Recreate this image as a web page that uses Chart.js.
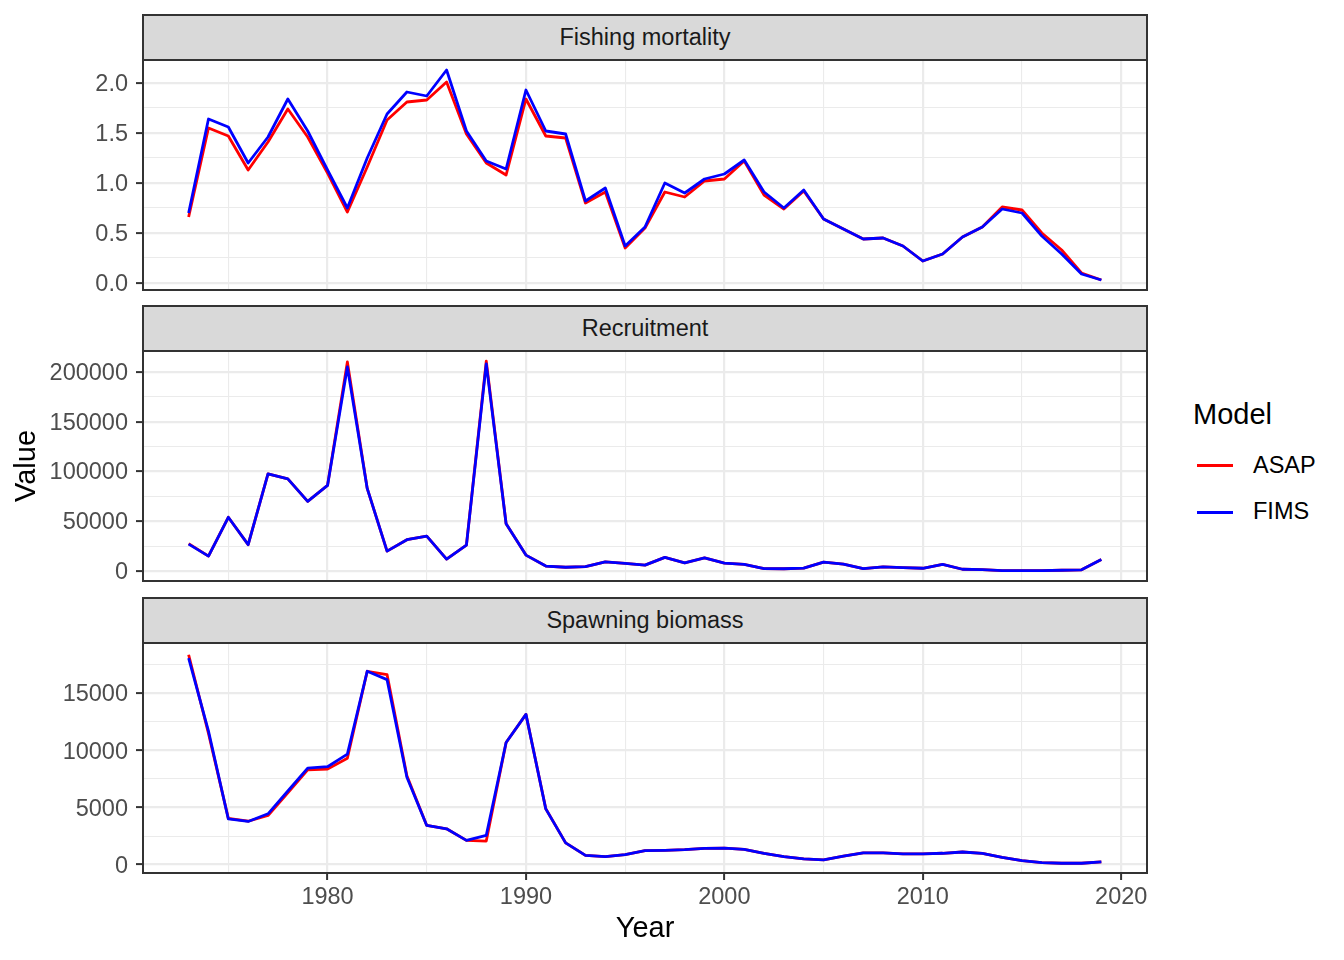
<!DOCTYPE html>
<html>
<head>
<meta charset="utf-8">
<title>ASAP vs FIMS</title>
<script src="https://cdn.jsdelivr.net/npm/chart.js@4.4.1/dist/chart.umd.min.js"></script>
<style>
  body { margin: 0; background: #fff; font-family: 'Liberation Sans', Arial, sans-serif; }
  #page { position: relative; width: 1344px; height: 960px; overflow: hidden; background: #fff; }
  canvas { position: absolute; left: 0; }
  .strip {
    position: absolute; left: 142px; width: 1006px; height: 47px;
    box-sizing: border-box; border: 2px solid #333333; background: #d9d9d9;
    color: #1a1a1a; font-size: 23.5px;
    display: flex; align-items: center; justify-content: center;
  }
  .leg-title { position: absolute; left: 1193px; top: 400px; font-size: 29px; line-height: 29px; color: #000; }
  .leg-key { position: absolute; left: 1197px; width: 36px; height: 3px; }
  .leg-label { position: absolute; left: 1253px; font-size: 23.5px; line-height: 23.5px; color: #000; }
</style>
</head>
<body>
<div id="page">
  <div class="strip" id="strip0" style="top:14px"></div>
  <div class="strip" id="strip1" style="top:305px"></div>
  <div class="strip" id="strip2" style="top:597px"></div>
  <canvas id="c0" width="1177" height="278" style="top:36px"></canvas>
  <canvas id="c1" width="1177" height="278" style="top:327px"></canvas>
  <canvas id="c2" width="1177" height="341" style="top:619px"></canvas>

  <div class="leg-title">Model</div>
  <div class="leg-key" id="key0" style="top:464px"></div>
  <div class="leg-label" id="lab0" style="top:454px"></div>
  <div class="leg-key" id="key1" style="top:511px"></div>
  <div class="leg-label" id="lab1" style="top:500px"></div>
</div>
<script>
// years on the x axis
var years = [1973, 1974, 1975, 1976, 1977, 1978, 1979, 1980, 1981, 1982,
             1983, 1984, 1985, 1986, 1987, 1988, 1989, 1990, 1991, 1992,
             1993, 1994, 1995, 1996, 1997, 1998, 1999, 2000, 2001, 2002,
             2003, 2004, 2005, 2006, 2007, 2008, 2009, 2010, 2011, 2012,
             2013, 2014, 2015, 2016, 2017, 2018, 2019];

// Fishing mortality
var fAsap = [0.66, 1.55, 1.47, 1.13, 1.41, 1.74, 1.46, 1.10, 0.71, 1.16,
             1.63, 1.81, 1.83, 2.01, 1.49, 1.20, 1.08, 1.84, 1.47, 1.45,
             0.80, 0.91, 0.35, 0.55, 0.91, 0.86, 1.02, 1.04, 1.22, 0.88,
             0.74, 0.92, 0.64, 0.54, 0.44, 0.45, 0.37, 0.22, 0.29, 0.46,
             0.56, 0.76, 0.73, 0.50, 0.33, 0.10, 0.03];
var fFims = [0.70, 1.64, 1.56, 1.20, 1.46, 1.84, 1.52, 1.13, 0.75, 1.25,
             1.69, 1.91, 1.87, 2.13, 1.52, 1.22, 1.14, 1.93, 1.52, 1.49,
             0.82, 0.95, 0.37, 0.56, 1.00, 0.90, 1.04, 1.09, 1.23, 0.91,
             0.75, 0.93, 0.64, 0.54, 0.44, 0.45, 0.37, 0.22, 0.29, 0.46,
             0.56, 0.74, 0.70, 0.47, 0.29, 0.09, 0.03];

// Recruitment
var recAsap = [27500, 15000, 54000, 26500, 97500, 92500, 70000, 86000, 210000, 83000,
               20000, 31500, 35000, 12000, 26000, 210700, 47500, 16000, 5000, 3800,
               4500, 9300, 7700, 6000, 13700, 8300, 13300, 8000, 6700, 2500,
               2300, 3000, 9000, 7000, 2500, 4200, 3500, 2800, 6700, 1800,
               1400, 500, 400, 400, 800, 1200, 11700];
var recFims = [27000, 15000, 54000, 26500, 97500, 92500, 70000, 86000, 205000, 83000,
               20000, 31500, 35000, 12000, 26000, 208000, 47500, 16000, 5000, 3800,
               4500, 9300, 7700, 6000, 13700, 8300, 13300, 8000, 6700, 2500,
               2300, 3000, 9000, 7000, 2500, 4200, 3500, 2800, 6700, 1800,
               1400, 500, 400, 400, 800, 1200, 11700];

// Spawning biomass
var ssbAsap = [18400, 11500, 4050, 3800, 4300, 6300, 8300, 8370, 9330, 16950,
               16660, 7790, 3430, 3140, 2120, 2060, 10700, 13170, 4900, 1900,
               800, 700, 870, 1220, 1250, 1310, 1420, 1450, 1340, 990,
               700, 490, 410, 730, 1020, 1020, 930, 930, 990, 1100,
               990, 640, 350, 175, 115, 115, 230];
var ssbFims = [18100, 11700, 4000, 3780, 4450, 6450, 8460, 8580, 9680, 16950,
               16220, 7650, 3430, 3140, 2120, 2560, 10700, 13170, 4880, 1900,
               800, 700, 870, 1220, 1250, 1310, 1420, 1450, 1340, 990,
               700, 490, 410, 730, 1020, 1020, 930, 930, 990, 1100,
               990, 640, 350, 175, 115, 115, 230];

var panelTitles = ['Fishing mortality', 'Recruitment', 'Spawning biomass'];
var seriesNames = ['ASAP', 'FIMS'];
var seriesColors = ['#ff0000', '#0000ff'];

// breaks (major ones get labels, the others are minor grid lines)
var xTicks = [1975, 1980, 1985, 1990, 1995, 2000, 2005, 2010, 2015, 2020];
var fTicks = [0, 0.25, 0.5, 0.75, 1, 1.25, 1.5, 1.75, 2];
var recTicks = [0, 25000, 50000, 75000, 100000, 125000, 150000, 175000, 200000];
var ssbTicks = [0, 2500, 5000, 7500, 10000, 12500, 15000, 17500];

Chart.defaults.font.family = "'Liberation Sans', Arial, sans-serif";

function pts(vals) {
  return years.map(function(y, i) { return {x: y, y: vals[i]}; });
}

// ggplot style border round the panel
var panelBorder = {
  id: 'panelBorder',
  afterDraw: function(chart) {
    var a = chart.chartArea, ctx = chart.ctx;
    ctx.save();
    ctx.strokeStyle = '#333333';
    ctx.lineWidth = 2;
    ctx.strokeRect(a.left, a.top, a.right - a.left, a.bottom - a.top);
    ctx.restore();
  }
};

function gridFor(isMajor, drawTicks) {
  return {
    color: '#ebebeb',
    lineWidth: function(c) { return c.tick && isMajor(c.tick.value) ? 2.2 : 1.1; },
    drawTicks: drawTicks,
    tickLength: 7,
    tickWidth: 2,
    tickColor: function(c) { return c.tick && isMajor(c.tick.value) ? '#333333' : 'rgba(0,0,0,0)'; }
  };
}

function makePanel(id, asap, fims, yMin, yMax, yTicks, yStep, fmt, isBottom, showYTitle) {
  var yMajor = function(v) { return Math.abs(v / yStep - Math.round(v / yStep)) < 1e-6; };
  var xMajor = function(v) { return v % 10 === 0; };

  var xScale = {
    type: 'linear',
    min: 1970.7,
    max: 2021.3,
    border: {display: false},
    grid: gridFor(xMajor, isBottom),
    afterBuildTicks: function(s) { s.ticks = xTicks.map(function(v) { return {value: v}; }); },
    ticks: {
      display: isBottom,
      autoSkip: false,
      maxRotation: 0,
      padding: 3,
      color: '#4d4d4d',
      font: {size: 23.5},
      callback: function(v) { return xMajor(v) ? String(v) : ''; }
    }
  };
  if (isBottom) {
    xScale.title = {display: true, text: 'Year', color: '#000000', font: {size: 29}, padding: {top: 0, bottom: 4}};
    xScale.afterFit = function(s) { s.height = 77; };
  } else {
    xScale.afterFit = function(s) { s.height = 0; };
  }

  var yScale = {
    type: 'linear',
    min: yMin,
    max: yMax,
    border: {display: false},
    grid: gridFor(yMajor, true),
    afterBuildTicks: function(s) { s.ticks = yTicks.map(function(v) { return {value: v}; }); },
    afterFit: function(s) { s.width = 143; },
    ticks: {
      autoSkip: false,
      padding: 8,
      labelOffset: 1.5,
      color: '#4d4d4d',
      font: {size: 23.5},
      callback: function(v) { return yMajor(v) ? fmt(v) : ''; }
    },
    title: {display: showYTitle, text: 'Value', color: '#000000', font: {size: 29}, padding: {top: 10, bottom: 0}}
  };

  return new Chart(document.getElementById(id), {
    type: 'line',
    data: {
      datasets: [
        {label: seriesNames[0], data: pts(asap), borderColor: seriesColors[0], order: 1},
        {label: seriesNames[1], data: pts(fims), borderColor: seriesColors[1], order: 0}
      ]
    },
    options: {
      responsive: false,
      animation: false,
      devicePixelRatio: 1,
      events: [],
      layout: {padding: {left: 0, right: 30, top: 24, bottom: isBottom ? 10 : 24}},
      elements: {
        point: {radius: 0},
        line: {borderWidth: 2.8, tension: 0, borderJoinStyle: 'round', fill: false}
      },
      scales: {x: xScale, y: yScale},
      plugins: {legend: {display: false}, tooltip: {enabled: false}}
    },
    plugins: [panelBorder]
  });
}

makePanel('c0', fAsap, fFims, -0.07, 2.23, fTicks, 0.5,
          function(v) { return v.toFixed(1); }, false, false);
makePanel('c1', recAsap, recFims, -10000, 221000, recTicks, 50000,
          function(v) { return String(v); }, false, true);
makePanel('c2', ssbAsap, ssbFims, -740, 19430, ssbTicks, 5000,
          function(v) { return String(v); }, true, false);

// strips and legend text
for (var i = 0; i < panelTitles.length; i++) {
  document.getElementById('strip' + i).textContent = panelTitles[i];
}
for (var j = 0; j < seriesNames.length; j++) {
  document.getElementById('lab' + j).textContent = seriesNames[j];
  document.getElementById('key' + j).style.background = seriesColors[j];
}
</script>
</body>
</html>
